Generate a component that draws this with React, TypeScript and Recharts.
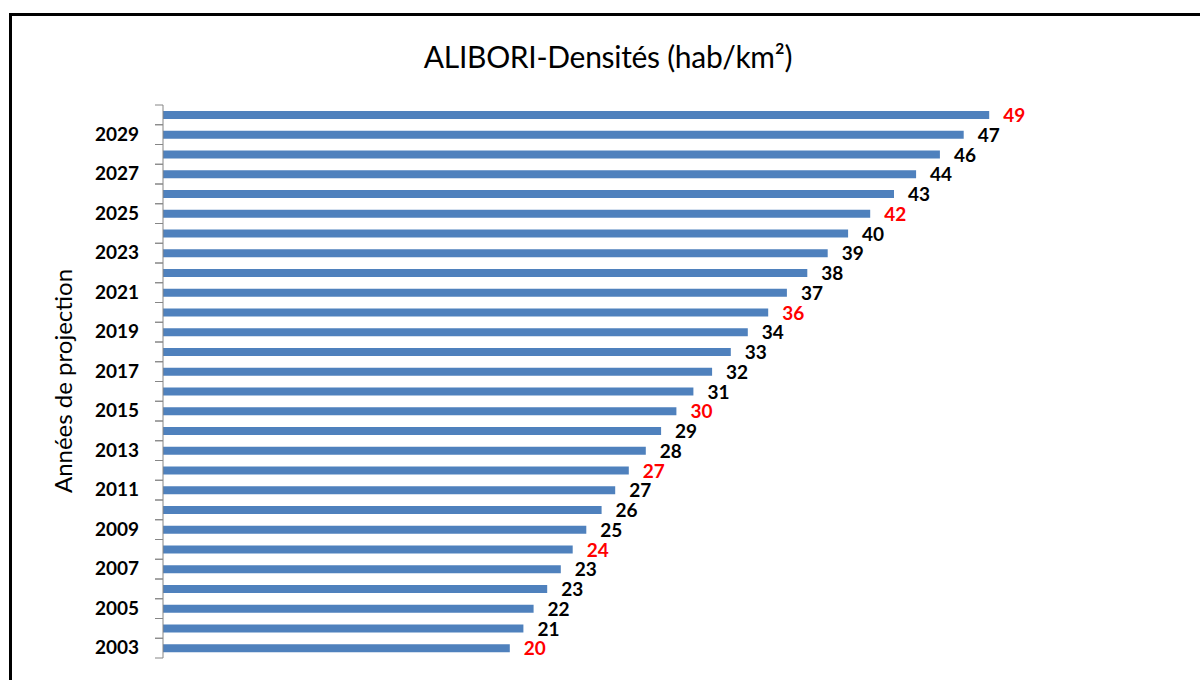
import React from 'react';
import { BarChart, Bar, XAxis, YAxis, LabelList } from 'recharts';

const years = [2003, 2004, 2005, 2006, 2007, 2008, 2009, 2010, 2011, 2012, 2013, 2014, 2015, 2016, 2017, 2018, 2019, 2020, 2021, 2022, 2023, 2024, 2025, 2026, 2027, 2028, 2029, 2030];
const densities = [20.4, 21.2, 21.8, 22.6, 23.4, 24.1, 24.9, 25.8, 26.6, 27.4, 28.4, 29.3, 30.2, 31.2, 32.3, 33.4, 34.4, 35.6, 36.7, 37.9, 39.1, 40.3, 41.6, 43.0, 44.3, 45.7, 47.1, 48.6];
const highlightedYears = [2003, 2008, 2012, 2015, 2020, 2025, 2030];
const labelledYears = [2003, 2005, 2007, 2009, 2011, 2013, 2015, 2017, 2019, 2021, 2023, 2025, 2027, 2029];

const title = 'ALIBORI-Densités (hab/km²)';
const yAxisTitle = 'Années de projection';

const data = years.map((y, i) => ({ year: String(y), value: densities[i] }));

const FONT = 'Lato, "Open Sans", sans-serif';

const YearTick = (props: any) => {
  const { x, y, payload } = props;
  const off = payload && typeof payload.offset === 'number' && payload.offset > 0 ? payload.offset : 9.875;
  const show = labelledYears.includes(Number(payload.value));
  return (
    <g>
      <line x1={x + 16} x2={x + 24} y1={y - off} y2={y - off} stroke="#868686" strokeWidth={1} />
      <line x1={x + 16} x2={x + 24} y1={y + off} y2={y + off} stroke="#868686" strokeWidth={1} />
      {show && (
        <text x={x} y={y} dy={6} textAnchor="end" fontFamily={FONT} fontWeight={700} fontSize={19} fill="#000">
          {payload.value}
        </text>
      )}
    </g>
  );
};

const ValueLabel = (props: any) => {
  const { x, y, width, height, value, index } = props;
  const yr = years[index];
  const red = highlightedYears.includes(yr);
  return (
    <text
      x={x + width + 14}
      y={y + height / 2}
      dy={7}
      textAnchor="start"
      fontFamily={FONT}
      fontWeight={700}
      fontSize={19}
      fill={red ? '#FF0000' : '#000000'}
    >
      {Math.round(value)}
    </text>
  );
};

const AxisTitle = (props: any) => {
  const { viewBox } = props;
  const cx = 62;
  const cy = 381;
  return (
    <text x={cx} y={cy} transform={`rotate(-90, ${cx}, ${cy})`} textAnchor="middle" dominantBaseline="central" fontFamily={FONT} fontSize={24} fill="#000">
      {yAxisTitle}
    </text>
  );
};

export default function App() {
  return (
    <div style={{ position: 'absolute', left: 0, top: 0, width: 1200, height: 680, overflow: 'hidden', background: '#fff' }}>
      <div
        style={{
          position: 'absolute',
          left: 9,
          top: 13,
          width: 1250,
          height: 720,
          borderTop: '3px solid #000',
          borderLeft: '3px solid #000',
          boxSizing: 'border-box',
        }}
      />
      <div
        style={{
          position: 'absolute',
          left: 0,
          top: 38,
          width: 1216,
          textAlign: 'center',
          fontFamily: FONT,
          fontSize: 30,
          letterSpacing: -0.3,
          color: '#000',
        }}
      >
        {title}
      </div>
      <div style={{ position: 'absolute', left: 0, top: 0 }}>
        <BarChart
          width={1200}
          height={680}
          data={data}
          layout="vertical"
          margin={{ top: 105, right: 187, bottom: 22, left: 0 }}
        >
          <XAxis type="number" domain={[0, 50]} hide />
          <YAxis
            type="category"
            dataKey="year"
            reversed
            width={163}
            interval={0}
            tickSize={8}
            tickMargin={16}
            tickLine={false}
            axisLine={{ stroke: '#868686', strokeWidth: 1 }}
            tick={<YearTick />}
            label={<AxisTitle />}
          />
          <Bar dataKey="value" fill="#4F81BD" barSize={8} isAnimationActive={false}>
            <LabelList dataKey="value" content={<ValueLabel />} />
          </Bar>
        </BarChart>
      </div>
    </div>
  );
}
